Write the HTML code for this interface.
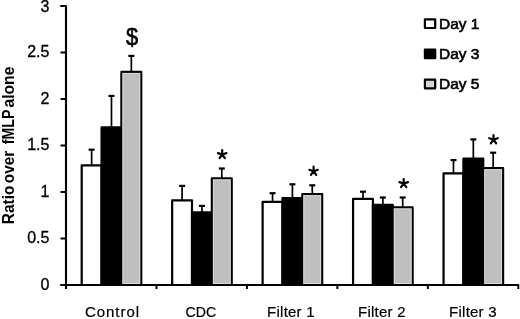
<!DOCTYPE html><html><head><meta charset="utf-8"><title>chart</title><style>html,body{margin:0;padding:0;background:#fff}svg{display:block;filter:blur(0.4px)}text{font-family:"Liberation Sans",sans-serif;fill:#000}</style></head><body>
<svg width="520" height="319" viewBox="0 0 520 319">
<rect width="520" height="319" fill="#fff"/>
<rect x="81.70" y="165.40" width="19.85" height="119.60" fill="#ffffff" stroke="#000" stroke-width="2.2" stroke-linejoin="round"/>
<rect x="101.55" y="127.40" width="19.85" height="157.60" fill="#000000" stroke="#000" stroke-width="2.2" stroke-linejoin="round"/>
<rect x="121.40" y="71.90" width="19.85" height="213.10" fill="#bfbfbf" stroke="#000" stroke-width="2.2" stroke-linejoin="round"/>
<rect x="122.90" y="73.40" width="16.85" height="210.10" fill="none" stroke="#dadada" stroke-width="1"/>
<path d="M91.63 165.40V149.40" stroke="#000" stroke-width="1.7" fill="none"/><path d="M88.63 149.70H94.63" stroke="#000" stroke-width="2.2" fill="none"/>
<path d="M111.48 127.40V95.60" stroke="#000" stroke-width="1.7" fill="none"/><path d="M108.48 95.90H114.48" stroke="#000" stroke-width="2.2" fill="none"/>
<path d="M131.33 71.90V55.60" stroke="#000" stroke-width="1.7" fill="none"/><path d="M128.33 55.90H134.33" stroke="#000" stroke-width="2.2" fill="none"/>
<rect x="172.16" y="200.40" width="19.85" height="84.60" fill="#ffffff" stroke="#000" stroke-width="2.2" stroke-linejoin="round"/>
<rect x="192.01" y="212.40" width="19.85" height="72.60" fill="#000000" stroke="#000" stroke-width="2.2" stroke-linejoin="round"/>
<rect x="211.87" y="178.40" width="19.85" height="106.60" fill="#bfbfbf" stroke="#000" stroke-width="2.2" stroke-linejoin="round"/>
<rect x="213.37" y="179.90" width="16.85" height="103.60" fill="none" stroke="#dadada" stroke-width="1"/>
<path d="M182.09 200.40V185.60" stroke="#000" stroke-width="1.7" fill="none"/><path d="M179.09 185.90H185.09" stroke="#000" stroke-width="2.2" fill="none"/>
<path d="M201.94 212.40V205.60" stroke="#000" stroke-width="1.7" fill="none"/><path d="M198.94 205.90H204.94" stroke="#000" stroke-width="2.2" fill="none"/>
<path d="M221.79 178.40V168.20" stroke="#000" stroke-width="1.7" fill="none"/><path d="M218.79 168.50H224.79" stroke="#000" stroke-width="2.2" fill="none"/>
<rect x="262.62" y="201.90" width="19.85" height="83.10" fill="#ffffff" stroke="#000" stroke-width="2.2" stroke-linejoin="round"/>
<rect x="282.48" y="198.00" width="19.85" height="87.00" fill="#000000" stroke="#000" stroke-width="2.2" stroke-linejoin="round"/>
<rect x="302.32" y="194.10" width="19.85" height="90.90" fill="#bfbfbf" stroke="#000" stroke-width="2.2" stroke-linejoin="round"/>
<rect x="303.82" y="195.60" width="16.85" height="87.90" fill="none" stroke="#dadada" stroke-width="1"/>
<path d="M272.55 201.90V192.90" stroke="#000" stroke-width="1.7" fill="none"/><path d="M269.55 193.20H275.55" stroke="#000" stroke-width="2.2" fill="none"/>
<path d="M292.40 198.00V184.00" stroke="#000" stroke-width="1.7" fill="none"/><path d="M289.40 184.30H295.40" stroke="#000" stroke-width="2.2" fill="none"/>
<path d="M312.25 194.10V185.00" stroke="#000" stroke-width="1.7" fill="none"/><path d="M309.25 185.30H315.25" stroke="#000" stroke-width="2.2" fill="none"/>
<rect x="353.08" y="198.90" width="19.85" height="86.10" fill="#ffffff" stroke="#000" stroke-width="2.2" stroke-linejoin="round"/>
<rect x="372.94" y="204.80" width="19.85" height="80.20" fill="#000000" stroke="#000" stroke-width="2.2" stroke-linejoin="round"/>
<rect x="392.78" y="207.40" width="19.85" height="77.60" fill="#bfbfbf" stroke="#000" stroke-width="2.2" stroke-linejoin="round"/>
<rect x="394.28" y="208.90" width="16.85" height="74.60" fill="none" stroke="#dadada" stroke-width="1"/>
<path d="M363.01 198.90V191.40" stroke="#000" stroke-width="1.7" fill="none"/><path d="M360.01 191.70H366.01" stroke="#000" stroke-width="2.2" fill="none"/>
<path d="M382.86 204.80V197.20" stroke="#000" stroke-width="1.7" fill="none"/><path d="M379.86 197.50H385.86" stroke="#000" stroke-width="2.2" fill="none"/>
<path d="M402.71 207.40V197.20" stroke="#000" stroke-width="1.7" fill="none"/><path d="M399.71 197.50H405.71" stroke="#000" stroke-width="2.2" fill="none"/>
<rect x="443.55" y="173.40" width="19.85" height="111.60" fill="#ffffff" stroke="#000" stroke-width="2.2" stroke-linejoin="round"/>
<rect x="463.40" y="158.70" width="19.85" height="126.30" fill="#000000" stroke="#000" stroke-width="2.2" stroke-linejoin="round"/>
<rect x="483.25" y="168.10" width="19.85" height="116.90" fill="#bfbfbf" stroke="#000" stroke-width="2.2" stroke-linejoin="round"/>
<rect x="484.75" y="169.60" width="16.85" height="113.90" fill="none" stroke="#dadada" stroke-width="1"/>
<path d="M453.47 173.40V159.80" stroke="#000" stroke-width="1.7" fill="none"/><path d="M450.47 160.10H456.47" stroke="#000" stroke-width="2.2" fill="none"/>
<path d="M473.32 158.70V139.10" stroke="#000" stroke-width="1.7" fill="none"/><path d="M470.32 139.40H476.32" stroke="#000" stroke-width="2.2" fill="none"/>
<path d="M493.17 168.10V152.40" stroke="#000" stroke-width="1.7" fill="none"/><path d="M490.17 152.70H496.17" stroke="#000" stroke-width="2.2" fill="none"/>
<path d="M60.5 6.0H66.0V289.0" stroke="#000" stroke-width="2.1" fill="none" stroke-linejoin="round"/>
<path d="M60.5 285.0H518.30V289.0" stroke="#000" stroke-width="2" fill="none" stroke-linejoin="round"/>
<path d="M60.5 6.00H66.0" stroke="#000" stroke-width="2"/>
<text x="49.4" y="11.70" font-size="16" text-anchor="end" stroke="#000" stroke-width="0.3">3</text>
<path d="M60.5 52.50H66.0" stroke="#000" stroke-width="2"/>
<text x="49.4" y="57.40" font-size="16" text-anchor="end" stroke="#000" stroke-width="0.3">2.5</text>
<path d="M60.5 99.00H66.0" stroke="#000" stroke-width="2"/>
<text x="49.4" y="103.90" font-size="16" text-anchor="end" stroke="#000" stroke-width="0.3">2</text>
<path d="M60.5 145.50H66.0" stroke="#000" stroke-width="2"/>
<text x="49.4" y="150.40" font-size="16" text-anchor="end" stroke="#000" stroke-width="0.3">1.5</text>
<path d="M60.5 192.00H66.0" stroke="#000" stroke-width="2"/>
<text x="49.4" y="196.90" font-size="16" text-anchor="end" stroke="#000" stroke-width="0.3">1</text>
<path d="M60.5 238.50H66.0" stroke="#000" stroke-width="2"/>
<text x="49.4" y="243.40" font-size="16" text-anchor="end" stroke="#000" stroke-width="0.3">0.5</text>
<path d="M60.5 285.00H66.0" stroke="#000" stroke-width="2"/>
<text x="49.4" y="289.90" font-size="16" text-anchor="end" stroke="#000" stroke-width="0.3">0</text>
<path d="M156.46 285.0V289.0" stroke="#000" stroke-width="2"/>
<path d="M246.92 285.0V289.0" stroke="#000" stroke-width="2"/>
<path d="M337.38 285.0V289.0" stroke="#000" stroke-width="2"/>
<path d="M427.84 285.0V289.0" stroke="#000" stroke-width="2"/>
<text x="84.9" y="316.6" font-size="15" textLength="54.2" lengthAdjust="spacing" stroke="#000" stroke-width="0.2">Control</text>
<text x="185.6" y="316.6" font-size="15" textLength="30.6" lengthAdjust="spacingAndGlyphs" stroke="#000" stroke-width="0.2">CDC</text>
<text x="267.1" y="316.6" font-size="15" textLength="47.5" lengthAdjust="spacing" stroke="#000" stroke-width="0.2">Filter 1</text>
<text x="358.0" y="316.6" font-size="15" textLength="47.5" lengthAdjust="spacing" stroke="#000" stroke-width="0.2">Filter 2</text>
<text x="449.1" y="316.6" font-size="15" textLength="47.5" lengthAdjust="spacing" stroke="#000" stroke-width="0.2">Filter 3</text>
<path d="M222.20 154.50L222.20 150.00M222.20 154.50L226.48 153.11M222.20 154.50L224.85 158.14M222.20 154.50L219.55 158.14M222.20 154.50L217.92 153.11" stroke="#000" stroke-width="2.2" stroke-linecap="round" fill="none"/>
<path d="M313.60 171.20L313.60 166.70M313.60 171.20L317.88 169.81M313.60 171.20L316.25 174.84M313.60 171.20L310.95 174.84M313.60 171.20L309.32 169.81" stroke="#000" stroke-width="2.2" stroke-linecap="round" fill="none"/>
<path d="M403.70 183.50L403.70 179.00M403.70 183.50L407.98 182.11M403.70 183.50L406.35 187.14M403.70 183.50L401.05 187.14M403.70 183.50L399.42 182.11" stroke="#000" stroke-width="2.2" stroke-linecap="round" fill="none"/>
<path d="M493.50 139.60L493.50 135.10M493.50 139.60L497.78 138.21M493.50 139.60L496.15 143.24M493.50 139.60L490.85 143.24M493.50 139.60L489.22 138.21" stroke="#000" stroke-width="2.2" stroke-linecap="round" fill="none"/>
<text transform="translate(132 45) scale(0.95 1)" font-size="23" text-anchor="middle" stroke="#000" stroke-width="0.55">$</text>
<rect x="424.9" y="19.40" width="10.3" height="8.6" fill="#ffffff" stroke="#000" stroke-width="2.2" stroke-linejoin="round"/>
<text transform="translate(439.0 29.10) scale(1.05 1)" font-size="14.7" stroke="#000" stroke-width="0.6">Day 1</text>
<rect x="424.9" y="49.55" width="10.3" height="8.6" fill="#000000" stroke="#000" stroke-width="2.2" stroke-linejoin="round"/>
<text transform="translate(439.0 59.25) scale(1.05 1)" font-size="14.7" stroke="#000" stroke-width="0.6">Day 3</text>
<rect x="424.9" y="79.70" width="10.3" height="8.6" fill="#d6d6d6" stroke="#000" stroke-width="2.2" stroke-linejoin="round"/>
<text transform="translate(439.0 89.40) scale(1.05 1)" font-size="14.7" stroke="#000" stroke-width="0.6">Day 5</text>
<text transform="translate(14.1 0) rotate(-90)" x="-224.2" y="0" font-size="15.7" font-weight="bold" textLength="38.5" lengthAdjust="spacingAndGlyphs">Ratio</text>
<text transform="translate(14.1 0) rotate(-90)" x="-183.2" y="0" font-size="15.7" font-weight="bold" textLength="32.5" lengthAdjust="spacingAndGlyphs">over</text>
<text transform="translate(14.1 0) rotate(-90)" x="-144.2" y="0" font-size="15.7" font-weight="bold" textLength="34.5" lengthAdjust="spacingAndGlyphs">fMLP</text>
<text transform="translate(14.1 0) rotate(-90)" x="-107.6" y="0" font-size="15.7" font-weight="bold" textLength="41" lengthAdjust="spacingAndGlyphs">alone</text>
</svg></body></html>
